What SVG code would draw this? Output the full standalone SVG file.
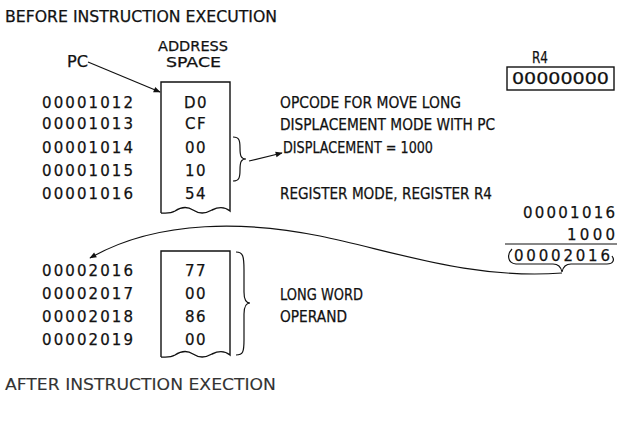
<svg xmlns="http://www.w3.org/2000/svg" width="622" height="423" viewBox="0 0 622 423">
<defs>
<style>
text{font-family:"DejaVu Sans","Liberation Sans",sans-serif;font-size:15px;fill:#111;stroke:#111;stroke-width:0.25;}
.h{font-size:13.5px;}
.c{text-anchor:middle;letter-spacing:1.5px;}
.e{text-anchor:end;}
.ln{fill:none;stroke:#111;stroke-width:1.4;}
.th{fill:none;stroke:#111;stroke-width:1.2;}
</style>
<marker id="ah" viewBox="0 0 10 10" refX="9" refY="5" markerWidth="9" markerHeight="7" orient="auto" markerUnits="userSpaceOnUse">
<path d="M0,1 L10,5 L0,9 Z" fill="#111"/>
</marker>
</defs>
<rect width="622" height="423" fill="#fff"/>

<g id="title-before"><text x="5" y="22" textLength="272" lengthAdjust="spacingAndGlyphs">BEFORE INSTRUCTION EXECUTION</text></g>

<g id="r4">
<text x="532" y="63" textLength="16" lengthAdjust="spacingAndGlyphs">R4</text>
<rect x="507" y="67" width="107" height="23" class="ln"/>
<text x="512" y="84" textLength="97" lengthAdjust="spacingAndGlyphs">00000000</text>
</g>

<g id="header">
<text class="h" x="158" y="51" textLength="70" lengthAdjust="spacingAndGlyphs">ADDRESS</text>
<text class="h" x="166" y="67" textLength="55" lengthAdjust="spacingAndGlyphs">SPACE</text>
<text x="67" y="67" textLength="21" lengthAdjust="spacingAndGlyphs">PC</text>
</g>

<g id="memory1">
<path class="ln" d="M161,213 V82 H230 V211 C224,206 218,207 212,210 C205,214 199,214 193,210 C187,206 181,207 175,211 C170,214 165,213 161,213"/>
<text x="42" y="108" textLength="91" lengthAdjust="spacing">00001012</text>
<text x="42" y="129" textLength="91" lengthAdjust="spacing">00001013</text>
<text x="42" y="153" textLength="91" lengthAdjust="spacing">00001014</text>
<text x="42" y="176" textLength="91" lengthAdjust="spacing">00001015</text>
<text x="42" y="199" textLength="91" lengthAdjust="spacing">00001016</text>
<text class="c" x="196" y="108">D0</text>
<text class="c" x="196" y="129">CF</text>
<text class="c" x="196" y="153">00</text>
<text class="c" x="196" y="176">10</text>
<text class="c" x="196" y="199">54</text>
</g>

<g id="labels1">
<text x="280" y="108" textLength="181" lengthAdjust="spacingAndGlyphs">OPCODE FOR MOVE LONG</text>
<text x="280" y="130" textLength="215" lengthAdjust="spacingAndGlyphs">DISPLACEMENT MODE WITH PC</text>
<text x="283" y="153" textLength="150" lengthAdjust="spacingAndGlyphs">DISPLACEMENT = 1000</text>
<text x="280" y="199" textLength="212" lengthAdjust="spacingAndGlyphs">REGISTER MODE, REGISTER R4</text>
</g>

<g id="calc">
<text class="e" x="615" y="218" textLength="92" lengthAdjust="spacing">00001016</text>
<text class="e" x="615" y="240" textLength="48" lengthAdjust="spacing">1000</text>
<line x1="505" y1="244" x2="617" y2="244" class="th"/>
<text x="514" y="261" textLength="96" lengthAdjust="spacing">00002016</text>
<path class="th" d="M512,249 C507,254 507,263 516,264 L553,264 C558,264 561,267 562,272 C563,267 566,264 571,264 L607,264 C613,264 615,260 612,256"/>
</g>

<g id="memory2">
<path class="ln" d="M161,357 V251 H230 V355 C224,350 218,351 212,354 C205,358 199,358 193,354 C187,350 181,351 175,355 C170,358 165,357 161,357"/>
<text x="42" y="276" textLength="91" lengthAdjust="spacing">00002016</text>
<text x="42" y="299" textLength="91" lengthAdjust="spacing">00002017</text>
<text x="42" y="322" textLength="91" lengthAdjust="spacing">00002018</text>
<text x="42" y="345" textLength="91" lengthAdjust="spacing">00002019</text>
<text class="c" x="196" y="276">77</text>
<text class="c" x="196" y="299">00</text>
<text class="c" x="196" y="322">86</text>
<text class="c" x="196" y="345">00</text>
</g>

<g id="labels2">
<text x="280" y="300" textLength="83" lengthAdjust="spacingAndGlyphs">LONG WORD</text>
<text x="280" y="322" textLength="67" lengthAdjust="spacingAndGlyphs">OPERAND</text>
</g>

<g id="braces">
<path class="th" d="M233,137 C239,137 240,140 240,148 C240,156 241,159 246,159 C241,159 240,162 240,170 C240,178 239,181 233,181"/>
<path class="th" d="M236,252 C243,252 244,256 244,270 L244,292 C244,300 246,303 250,303 C246,303 244,306 244,314 L244,340 C244,352 243,355 236,355"/>
</g>

<g id="connectors">
<line class="th" x1="88" y1="62" x2="160" y2="92" marker-end="url(#ah)"/>
<line class="th" x1="249" y1="161" x2="282" y2="153" marker-end="url(#ah)"/>
<path class="th" d="M562,273 C470,280 390,250 320,236 C250,222 160,218 90,258" marker-end="url(#ah)"/>
</g>

<g id="title-after"><text x="5" y="390" textLength="271" lengthAdjust="spacingAndGlyphs" style="fill:#333;stroke:#333;stroke-width:0.1">AFTER INSTRUCTION EXECTION</text></g>
</svg>
